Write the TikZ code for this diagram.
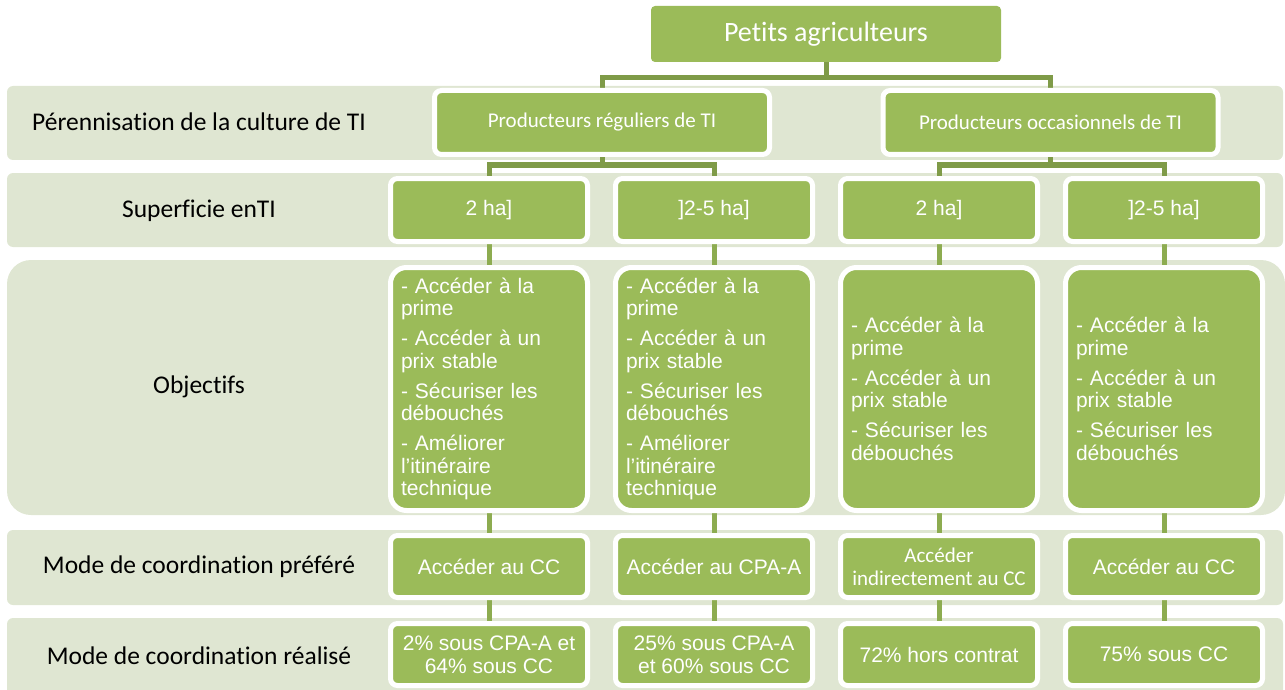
\documentclass[tikz,border=0pt]{standalone}
\usepackage{fontspec}
\setmainfont{Liberation Sans}
\newfontfamily\calfont[Ligatures={NoCommon}]{Carlito}
\definecolor{gfill}{HTML}{9BBB59}
\definecolor{bandc}{HTML}{DFE6D2}
\definecolor{connd}{HTML}{7F9B48}
\definecolor{connl}{HTML}{8DAC50}
\pgfdeclarelayer{bandlayer}
\pgfdeclarelayer{connlayer}
\pgfsetlayers{bandlayer,connlayer,main}
\begin{document}
\begin{tikzpicture}[x=1pt,y=-1pt,
  gbox/.style={draw=white, line width=5pt, fill=gfill, rounded corners=7pt, text=white,
    minimum width=197pt, minimum height=63pt, inner sep=0pt, align=center,
    font=\fontsize{21}{23}\selectfont},
  objbox/.style={gbox, rounded corners=16pt, minimum height=243pt, text width=176pt, align=left,
    font=\fontsize{21}{22.5}\selectfont},
  headbox/.style={gbox, minimum width=335pt, minimum height=64pt, font=\calfont\fontsize{21}{23}\selectfont},
  topbox/.style={fill=gfill, rounded corners=4pt, text=white, minimum width=350pt, minimum height=56pt,
    inner sep=0pt, font=\calfont\fontsize{28}{30}\selectfont},
  rowlabel/.style={text=black, inner sep=0pt, font=\calfont\fontsize{25.5}{28}\selectfont},
  bandfill/.style={fill=bandc, rounded corners=6pt},
  connA/.style={draw=connd, line width=5pt},
  connB/.style={draw=connl, line width=5pt}]
\useasboundingbox (0,0) rectangle (1285,690);
\clip (0,0) rectangle (1285,690);

% bands
\begin{pgfonlayer}{bandlayer}
\fill[bandfill] (7,86) rectangle (1283,160);
\fill[bandfill] (7,173) rectangle (1283,247);
\fill[bandfill, rounded corners=24pt] (7,260) rectangle (1285,515);
\fill[bandfill] (7,530) rectangle (1283,605);
\fill[bandfill] (7,618) rectangle (1283,700);
\end{pgfonlayer}

% row labels
\node[rowlabel] (l1) at (199,122) {Pérennisation de la culture de TI};
\node[rowlabel] (l2) at (199,211) {Superficie enTI};
\node[rowlabel] (l3) at (199,387) {Objectifs};
\node[rowlabel] (l4) at (199,567) {Mode de coordination préféré};
\node[rowlabel] (l5) at (199,656) {Mode de coordination réalisé};

% top
\node[topbox] (top) at (826,34) {Petits agriculteurs};

% row 1
\node[headbox] (reg) at (602,122.5) {Producteurs réguliers de TI};
\node[headbox] (occ) at (1050.5,122.5) {Producteurs occasionnels de TI};

% row 2
\node[gbox] (a1) at (489,210) {2 ha]};
\node[gbox] (a2) at (714,210) {]2-5 ha]};
\node[gbox] (a3) at (939,210) {2 ha]};
\node[gbox] (a4) at (1164,210) {]2-5 ha]};

% row 3
\node[objbox] (b1) at (489,389) {- Accéder à la\\prime\\[7.5pt]- Accéder à un\\prix stable\\[7.5pt]- Sécuriser les\\débouchés\\[7.5pt]- Améliorer\\l’itinéraire\\technique};
\node[objbox] (b2) at (714,389) {- Accéder à la\\prime\\[7.5pt]- Accéder à un\\prix stable\\[7.5pt]- Sécuriser les\\débouchés\\[7.5pt]- Améliorer\\l’itinéraire\\technique};
\node[objbox] (b3) at (939,389) {- Accéder à la\\prime\\[7.5pt]- Accéder à un\\prix stable\\[7.5pt]- Sécuriser les\\débouchés};
\node[objbox] (b4) at (1164,389) {- Accéder à la\\prime\\[7.5pt]- Accéder à un\\prix stable\\[7.5pt]- Sécuriser les\\débouchés};

% row 4
\node[gbox, minimum height=62pt] (c1) at (489,566.5) {Accéder au CC};
\node[gbox, minimum height=62pt] (c2) at (714,566.5) {Accéder au CPA-A};
\node[gbox, minimum height=62pt, font=\calfont\fontsize{21}{23}\selectfont] (c3) at (939,566.5) {Accéder\\indirectement au CC};
\node[gbox, minimum height=62pt] (c4) at (1164,566.5) {Accéder au CC};

% row 5
\node[gbox, minimum height=62pt] (d1) at (489,654.5) {2\% sous CPA-A et\\64\% sous CC};
\node[gbox, minimum height=62pt] (d2) at (714,654.5) {25\% sous CPA-A\\et 60\% sous CC};
\node[gbox, minimum height=62pt] (d3) at (939,654.5) {72\% hors contrat};
\node[gbox, minimum height=62pt] (d4) at (1164,654.5) {75\% sous CC};

% connectors
\coordinate (j0) at (826,78);
\coordinate (j1) at (602,165);
\coordinate (j2) at (1050.5,165);
\begin{pgfonlayer}{connlayer}
\draw[connA] (top.south) -- (j0);
\draw[connA] (reg.north) |- (j0) -| (occ.north);
\draw[connA] (reg.south) -- (j1);
\draw[connA] (a1.north) |- (j1) -| (a2.north);
\draw[connA] (occ.south) -- (j2);
\draw[connA] (a3.north) |- (j2) -| (a4.north);
\foreach \i in {1,2,3,4}{
  \draw[connB] (a\i.south) -- (b\i.north);
  \draw[connB] (b\i.south) -- (c\i.north);
  \draw[connB] (c\i.south) -- (d\i.north);
}
\end{pgfonlayer}
\end{tikzpicture}
\end{document}
